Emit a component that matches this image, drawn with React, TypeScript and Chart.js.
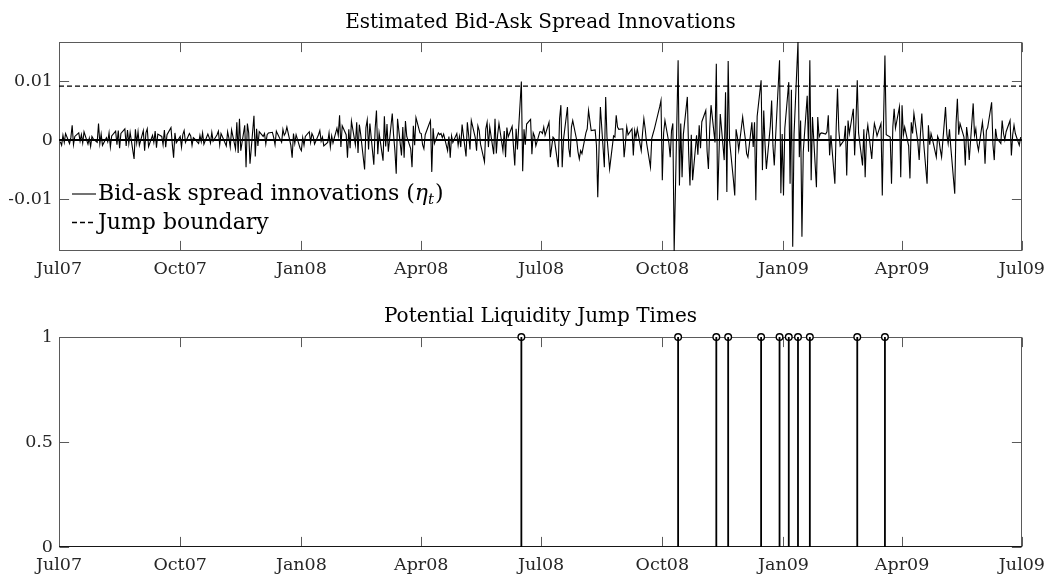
import { useEffect, useRef } from "react";
import { Chart, registerables } from "chart.js";

Chart.register(...registerables);

// ---------- data ----------
// Daily bid-ask spread innovations, one array per calendar quarter (trading days).
const spread2007Q3 = [
  -0.0003, -0.0009, 0.0008, -0.0004, 0.0011, -0.0006, 0.0004, 0.0025, -0.0008, 0.0006,
  0.0012, -0.0002, 0.0009, -0.0005, 0.0014, -0.0007, 0.0003, -0.0011, 0.0006, 0.0002,
  -0.0004, 0.0028, -0.0006, 0.001, -0.0009, 0.0004, -0.0003, 0.0012, -0.0012, 0.0007,
  0.0015, -0.0008, 0.0016, -0.0014, 0.0011, 0.0019, -0.001, 0.0017, -0.0006, 0.0013,
  -0.0032, 0.0018, -0.0005, 0.0014, -0.0009, 0.0016, -0.0018, 0.0012, 0.0019, -0.0011,
  0.0008, -0.0004, 0.0015, -0.0013, 0.001, 0.0006, -0.0008, 0.0017, -0.0012, 0.0009,
  0.0021, -0.0007, -0.003, 0.0012, -0.0005,
];
const spread2007Q4 = [
  0.0006, -0.0012, 0.0009, 0.0016, -0.0004, 0.0011, 0.0007, -0.0009, 0.0004, 0.0002,
  -0.0006, 0.0008, -0.0003, 0.0012, -0.0007, 0.001, 0.0004, -0.0005, 0.0013, -0.0002,
  0.0009, 0.0015, -0.0008, 0.0011, 0.0006, -0.001, 0.0014, 0.0003, -0.0012, 0.0017,
  -0.0015, 0.003, -0.0022, 0.0036, -0.0018, 0.0025, -0.0046, 0.0028, 0.0012, -0.004,
  0.0041, -0.0028, 0.0019, -0.001, 0.0014, 0.0006, 0.0011, -0.0007, 0.0009, 0.0012,
  0.0013, 0.0004, -0.0008, 0.0015, 0.001, -0.0004, 0.0018, 0.0008, 0.0012, 0.0022,
  -0.0009, -0.003, 0.0011, -0.0006, 0.0009, -0.0014,
];
const spread2008Q1 = [
  -0.0018, 0.0004, -0.0009, 0.0006, 0.0014, -0.0004, 0.0011, 0.0006, -0.0007, 0.0009,
  0.0016, -0.0002, 0.0005, -0.001, -0.0004, 0.0012, -0.0012, 0.0007, -0.0005, 0.002,
  0.0008, 0.0042, -0.0012, 0.0024, 0.0009, -0.003, 0.0018, -0.0014, 0.0032, -0.0008,
  0.003, -0.0022, 0.0026, 0.001, -0.005, 0.0021, 0.0034, -0.0016, 0.0028, -0.0042,
  0.0019, 0.005, -0.0024, 0.0012, -0.0035, 0.004, -0.0011, 0.0027, -0.002, 0.0045,
  0.0008, -0.0018, -0.0057, 0.0036, -0.0026, 0.0022, -0.003, 0.0032, 0.0006, -0.0015,
  -0.0046, 0.0024, -0.0009, 0.0038, 0.0012,
];
const spread2008Q2 = [
  0.0011, -0.0008, -0.0015, 0.0009, 0.0027, 0.0033, -0.0054, 0.002, -0.0006, 0.0012,
  0.0009, 0.0011, 0.0004, 0.001, -0.0018, 0.0006, -0.003, 0.0007, -0.0004, 0.0011,
  -0.0009, 0.0006, -0.0012, 0.0026, -0.0028, 0.003, 0.0008, -0.0016, 0.0033, 0.0004,
  -0.0018, 0.0024, 0.0016, -0.0007, -0.0037, 0.0019, 0.003, -0.0012, 0.0022, -0.0024,
  0.0036, -0.0023, 0.0009, 0.0028, -0.0018, 0.0015, -0.0029, 0.0021, 0.0005, 0.0023,
  -0.0011, -0.0043, 0.0019, -0.0016, 0.0099, -0.0053, 0.0018, -0.0008, 0.0027, 0.0035,
  -0.0024, 0.0012, 0.0006, -0.001, 0.0014,
];
const spread2008Q3 = [
  0.0014, 0.0011, 0.0022, 0.0008, 0.003, -0.0029, -0.0012, 0.0005, 0.0002, -0.0046,
  0.0036, 0.0059, -0.0046, 0.0001, 0.0056, -0.0014, -0.0029, 0.0022, 0.0033, 0.0,
  -0.002, -0.0032, -0.0018, -0.0023, 0.0012, 0.0019, 0.005, 0.0033, 0.0016, 0.0017,
  -0.0009, -0.0097, -0.0012, 0.0056, -0.0046, 0.0073, 0.0005, -0.0022, -0.0049, 0.0007,
  0.0005, 0.0042, 0.0022, 0.0018, 0.0019, -0.0029, -0.0006, 0.0022, 0.0009, 0.0019,
  -0.0026, 0.0016, 0.0004, 0.0019, -0.0018, 0.0012, 0.0036, 0.0019, -0.0004, -0.0046,
  0.0003, 0.0011, 0.0019, 0.0028, 0.0056, 0.0067,
];
const spread2008Q4 = [
  -0.0068, 0.0012, 0.0033, -0.0005, -0.0029, 0.0016, 0.0028, -0.0188, 0.0135, -0.0077,
  0.0028, -0.0063, 0.001, 0.0073, -0.0021, -0.0077, 0.0009, -0.0068, 0.0008, -0.0025,
  0.0025, -0.0014, 0.0031, 0.005, -0.0019, -0.0049, 0.002, 0.0059, -0.0004, 0.0129,
  -0.0102, -0.0026, 0.0044, -0.0034, 0.0081, -0.0088, 0.0134, 0.0, -0.0068, -0.0094,
  0.0018, 0.0005, -0.0017, 0.0039, 0.0019, 0.0002, -0.0023, -0.0029, 0.003, -0.0012,
  0.003, -0.0102, 0.004, 0.0101, -0.0051, 0.005, -0.0008, -0.0049, 0.0024, 0.0067,
  -0.001, -0.0043, 0.0005, 0.0135, -0.009, 0.001,
];
const spread2009Q1 = [
  -0.0094, 0.002, 0.0098, -0.0074, 0.0085, -0.0181, 0.001, 0.0166, -0.0029, 0.0033,
  -0.0164, -0.002, 0.0075, -0.002, 0.0135, -0.0068, 0.0039, -0.008, 0.0039, 0.0005,
  0.0011, 0.0012, 0.001, 0.0014, 0.0042, -0.0026, 0.0008, -0.0074, 0.0021, 0.0087,
  0.0016, -0.001, 0.0, 0.0024, -0.006, 0.0033, 0.0011, 0.0053, -0.0026, 0.003,
  0.0101, 0.0012, -0.0043, 0.0018, -0.0063, 0.0008, 0.0025, -0.0032, 0.0004, 0.0028,
  0.0019, 0.0007, 0.0028, -0.0094, 0.0036, 0.0143, 0.0009, 0.0005, -0.0074, 0.0022,
  0.0053, 0.002, 0.0056, -0.0063,
];
const spread2009Q2 = [
  0.0059, 0.0008, 0.0022, -0.001, -0.0065, 0.003, 0.0011, 0.0045, -0.0004, -0.0034,
  0.0012, 0.0045, 0.0006, -0.0074, 0.0025, -0.0008, 0.0011, 0.0002, -0.0029, 0.0006,
  0.0, -0.0016, -0.0029, 0.0056, 0.001, -0.0006, 0.0018, -0.0012, -0.0091, 0.0028,
  0.007, 0.0009, 0.0028, 0.0005, -0.0043, 0.0022, 0.0004, -0.0034, 0.0062, 0.0008,
  0.0019, -0.0006, -0.0018, 0.003, 0.0007, -0.004, 0.0016, 0.0021, 0.0064, -0.0008,
  -0.0034, 0.0019, 0.0003, -0.0006, 0.0033, 0.0011, 0.0, 0.0014, 0.0033, -0.0026,
  0.0009, 0.0025, 0.0011, -0.0009, 0.0005,
];

// First trading day of each quarter, paired with its series.
const quarterStarts = [
  "2007-07-02", "2007-10-01", "2008-01-01", "2008-04-01",
  "2008-07-01", "2008-10-01", "2009-01-01", "2009-04-01",
];
const quarterSeries = [
  spread2007Q3, spread2007Q4, spread2008Q1, spread2008Q2,
  spread2008Q3, spread2008Q4, spread2009Q1, spread2009Q2,
];

const jumpBoundary = 0.00912;
const spreadRange = [-0.0188, 0.0166];
const spreadTicks = [-0.01, 0, 0.01];
const spreadTickLabels = ["-0.01", "0", "0.01"];

// Days flagged as liquidity jumps (innovation above the boundary).
const jumpDates = [
  "2008-06-16", "2008-10-13", "2008-11-11", "2008-11-20", "2008-12-15", "2008-12-29",
  "2009-01-05", "2009-01-12", "2009-01-21", "2009-02-26", "2009-03-19",
];
const jumpRange = [0, 1];
const jumpTicks = [0, 0.5, 1];
const jumpTickLabels = ["0", "0.5", "1"];

const dateTicks = [
  "2007-07-01", "2007-10-01", "2008-01-01", "2008-04-01", "2008-07-01",
  "2008-10-01", "2009-01-01", "2009-04-01", "2009-07-01",
];
const dateTickLabels = ["Jul07", "Oct07", "Jan08", "Apr08", "Jul08", "Oct08", "Jan09", "Apr09", "Jul09"];

// ---------- helpers ----------
const ORIGIN = Date.UTC(2007, 6, 1);
const DAY = 86400000;
const dayOf = (iso: string) => {
  const [y, m, d] = iso.split("-").map(Number);
  return (Date.UTC(y, m - 1, d) - ORIGIN) / DAY;
};
const tradingDays = (startIso: string, n: number) => {
  const out: number[] = [];
  let t = ORIGIN + dayOf(startIso) * DAY;
  while (out.length < n) {
    const wd = new Date(t).getUTCDay();
    if (wd !== 0 && wd !== 6) out.push((t - ORIGIN) / DAY);
    t += DAY;
  }
  return out;
};

const spreadPoints = quarterSeries.flatMap((vals, q) => {
  const xs = tradingDays(quarterStarts[q], vals.length);
  return vals.map((y, i) => ({ x: xs[i], y }));
});

const xTickDays = dateTicks.map(dayOf);
const xMin = xTickDays[0];
const xMax = xTickDays[xTickDays.length - 1];

const FONT_FAMILY = '"DejaVu Serif", serif';
const TICK_FONT = { family: FONT_FAMILY, size: 17.5 };
const AXIS_COLOR = "#5a5a5a";
const TEXT_COLOR = "#262626";
const TICK_LEN = 9.6;

// Box around the axes with inward tick marks on all four sides.
const boxPlugin = {
  id: "boxAxes",
  beforeDatasetsDraw(chart: any) {
    const { ctx, chartArea: a, scales } = chart;
    ctx.save();
    ctx.strokeStyle = AXIS_COLOR;
    ctx.lineWidth = 1;
    const L = Math.round(a.left) + 0.5;
    const R = Math.round(a.right) - 0.5;
    const T = Math.round(a.top) + 0.5;
    const B = Math.round(a.bottom) - 0.5;
    ctx.strokeRect(L, T, R - L, B - T);
    ctx.beginPath();
    for (const t of scales.x.ticks) {
      const px = Math.round(scales.x.getPixelForValue(t.value)) + 0.5;
      ctx.moveTo(px, B);
      ctx.lineTo(px, B - TICK_LEN);
      ctx.moveTo(px, T);
      ctx.lineTo(px, T + TICK_LEN);
    }
    for (const t of scales.y.ticks) {
      const py = Math.round(scales.y.getPixelForValue(t.value)) + 0.5;
      ctx.moveTo(L, py);
      ctx.lineTo(L + TICK_LEN, py);
      ctx.moveTo(R, py);
      ctx.lineTo(R - TICK_LEN, py);
    }
    ctx.stroke();
    ctx.restore();
  },
};

const titlePlugin = (text: string, offset: number) => ({
  id: "axesTitle",
  afterDraw(chart: any) {
    const { ctx, chartArea: a } = chart;
    ctx.save();
    ctx.font = `20px ${FONT_FAMILY}`;
    ctx.fillStyle = "#000";
    ctx.textAlign = "center";
    ctx.textBaseline = "alphabetic";
    ctx.fillText(text, (a.left + a.right) / 2, a.top - offset);
    ctx.restore();
  },
});

const legendPlugin = {
  id: "innerLegend",
  afterDatasetsDraw(chart: any) {
    const { ctx, chartArea: a } = chart;
    const x0 = a.left + 13;
    const x1 = a.left + 37;
    const tx = a.left + 39;
    const row1 = a.top + 152;
    const row2 = a.top + 180.5;
    ctx.save();
    ctx.strokeStyle = "#000";
    ctx.lineWidth = 1.1;
    ctx.beginPath();
    ctx.moveTo(x0, row1);
    ctx.lineTo(x1, row1);
    ctx.stroke();
    ctx.lineWidth = 1.3;
    ctx.setLineDash([5, 3]);
    ctx.beginPath();
    ctx.moveTo(x0, row2);
    ctx.lineTo(x1, row2);
    ctx.stroke();
    ctx.setLineDash([]);

    ctx.fillStyle = "#000";
    ctx.textBaseline = "alphabetic";
    ctx.textAlign = "left";
    const big = `22px ${FONT_FAMILY}`;
    const ital = `italic 22px ${FONT_FAMILY}`;
    const sub = `italic 15px ${FONT_FAMILY}`;
    const base1 = row1 + 6;
    let cx = tx;
    ctx.font = big;
    const s1 = "Bid-ask spread innovations (";
    ctx.fillText(s1, cx, base1);
    cx += ctx.measureText(s1).width;
    ctx.font = ital;
    ctx.fillText("\u03B7", cx, base1);
    cx += ctx.measureText("\u03B7").width;
    ctx.font = sub;
    ctx.fillText("t", cx, base1 + 4);
    cx += ctx.measureText("t").width + 1;
    ctx.font = big;
    ctx.fillText(")", cx, base1);

    ctx.fillText("Jump boundary", tx, row2 + 6);
    ctx.restore();
  },
};

const dateAxis = () => ({
  type: "linear" as const,
  min: xMin,
  max: xMax,
  afterBuildTicks: (s: any) => {
    s.ticks = xTickDays.map((v) => ({ value: v }));
  },
  afterFit: (s: any) => {
    s.height = 30;
  },
  ticks: {
    autoSkip: false,
    maxRotation: 0,
    font: TICK_FONT,
    color: TEXT_COLOR,
    padding: 8,
    callback: (v: number) => dateTickLabels[xTickDays.indexOf(v)] ?? "",
  },
  grid: { display: false, drawTicks: false },
  border: { display: false },
});

const valueAxis = (range: number[], ticks: number[], labels: string[]) => ({
  type: "linear" as const,
  min: range[0],
  max: range[1],
  afterBuildTicks: (s: any) => {
    s.ticks = ticks.map((v) => ({ value: v }));
  },
  afterFit: (s: any) => {
    s.width = 50;
  },
  ticks: {
    font: TICK_FONT,
    color: TEXT_COLOR,
    padding: 6,
    callback: (v: number) => labels[ticks.indexOf(v)] ?? "",
  },
  grid: { display: false, drawTicks: false },
  border: { display: false },
});

const common = {
  animation: false as const,
  responsive: false,
  events: [] as any[],
  plugins: { legend: { display: false }, tooltip: { enabled: false }, title: { display: false } },
};

export default function App() {
  const topRef = useRef<HTMLCanvasElement>(null);
  const bottomRef = useRef<HTMLCanvasElement>(null);

  useEffect(() => {
    const top = new Chart(topRef.current!, {
      type: "line",
      data: {
        datasets: [
          {
            data: [{ x: xMin, y: 0 }, { x: xMax, y: 0 }],
            borderColor: "#000",
            borderWidth: 1.8,
            pointRadius: 0,
          },
          {
            data: spreadPoints,
            borderColor: "#000",
            borderWidth: 1.1,
            pointRadius: 0,
            tension: 0,
          },
          {
            data: [{ x: xMin, y: jumpBoundary }, { x: xMax, y: jumpBoundary }],
            borderColor: "#000",
            borderWidth: 1.3,
            borderDash: [5, 3],
            pointRadius: 0,
          },
        ],
      },
      options: {
        ...common,
        layout: { padding: { left: 9, right: 30, top: 42, bottom: 9 } },
        scales: {
          x: dateAxis(),
          y: valueAxis(spreadRange, spreadTicks, spreadTickLabels),
        },
      } as any,
      plugins: [boxPlugin, legendPlugin, titlePlugin("Estimated Bid-Ask Spread Innovations", 14)],
    });

    const jumpDays = jumpDates.map(dayOf);
    const stemPoints: { x: number; y: number | null }[] = [];
    jumpDays.forEach((d) => {
      stemPoints.push({ x: d, y: jumpRange[0] }, { x: d, y: jumpRange[1] }, { x: d, y: null });
    });

    const bottom = new Chart(bottomRef.current!, {
      type: "line",
      data: {
        datasets: [
          {
            data: [{ x: xMin, y: 0 }, { x: xMax, y: 0 }],
            borderColor: "#000",
            borderWidth: 1.6,
            pointRadius: 0,
          },
          {
            data: stemPoints,
            borderColor: "#000",
            borderWidth: 1.8,
            pointRadius: 0,
            spanGaps: false,
          },
          {
            data: jumpDays.map((d) => ({ x: d, y: jumpRange[1] })),
            showLine: false,
            clip: false,
            pointRadius: 3.3,
            pointBorderWidth: 1.4,
            pointBorderColor: "#000",
            pointBackgroundColor: "#fff",
          },
        ],
      },
      options: {
        ...common,
        layout: { padding: { left: 9, right: 30, top: 47, bottom: 2 } },
        scales: {
          x: dateAxis(),
          y: valueAxis(jumpRange, jumpTicks, jumpTickLabels),
        },
      } as any,
      plugins: [boxPlugin, titlePlugin("Potential Liquidity Jump Times", 15)],
    });

    return () => {
      top.destroy();
      bottom.destroy();
    };
  }, []);

  return (
    <div style={{ position: "absolute", left: 0, top: 0, width: 1053, height: 579, background: "#fff" }}>
      <canvas ref={topRef} width={1053} height={290} style={{ position: "absolute", left: 0, top: 0 }} />
      <canvas ref={bottomRef} width={1053} height={289} style={{ position: "absolute", left: 0, top: 290 }} />
    </div>
  );
}
